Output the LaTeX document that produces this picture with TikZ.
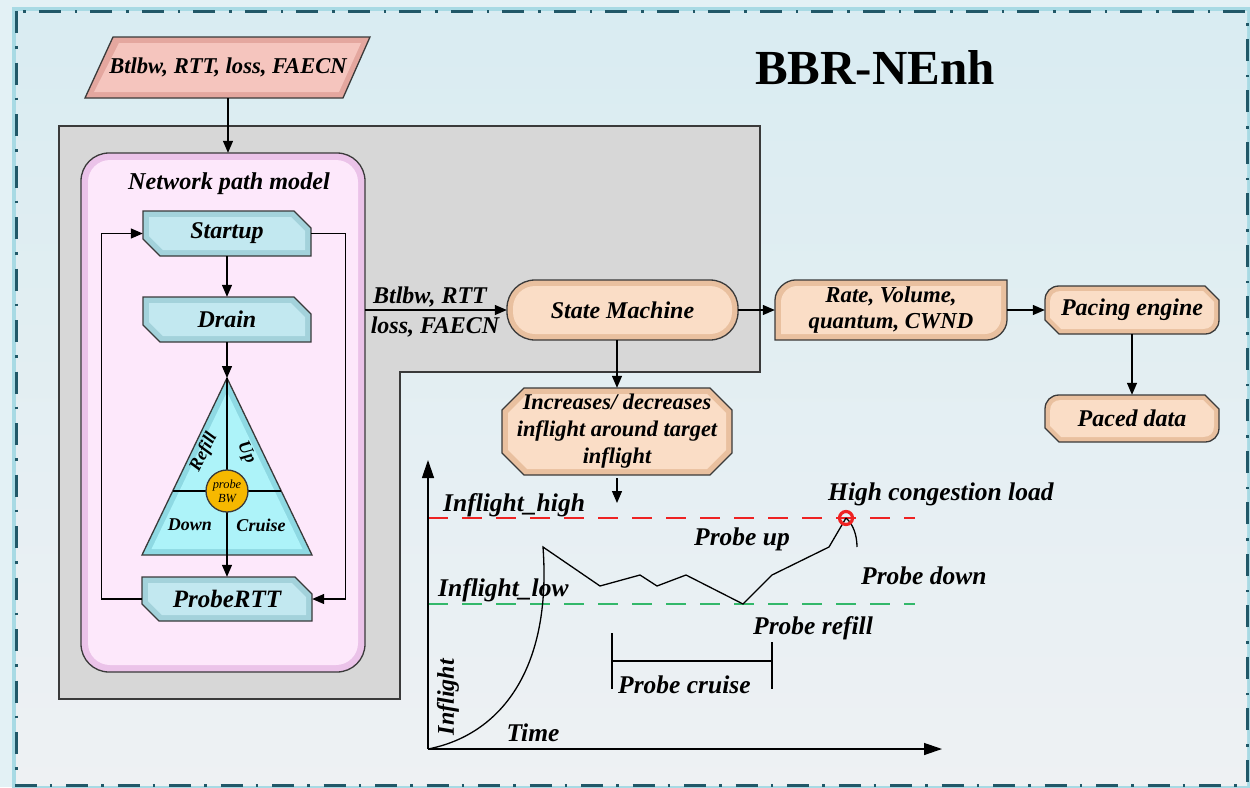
\documentclass[tikz,border=0pt]{standalone}
\usepackage{fontspec}
\setmainfont{Liberation Serif}
\usetikzlibrary{arrows.meta,calc}
\definecolor{frameC}{HTML}{215868}
\definecolor{glowC}{HTML}{A8DAE4}
\definecolor{outerC}{HTML}{E3F1F5}
\definecolor{bgTop}{HTML}{D9ECF2}
\definecolor{bgMid}{HTML}{E0EEF8}
\definecolor{bgBot}{HTML}{EEF1F3}
\definecolor{grayC}{HTML}{D7D7D7}
\definecolor{pinkRim}{HTML}{EBC3E9}
\definecolor{pinkFace}{HTML}{FDE8FB}
\definecolor{cyRim}{HTML}{A3D2DB}
\definecolor{cyFace}{HTML}{C2E8F0}
\definecolor{triRim}{HTML}{8ED9E3}
\definecolor{triFace}{HTML}{ADF3F9}
\definecolor{peRim}{HTML}{E9C09F}
\definecolor{peFace}{HTML}{FADDC6}
\definecolor{inRim}{HTML}{E4A79F}
\definecolor{inFace}{HTML}{F5C5BE}
\definecolor{orangeC}{HTML}{F6B800}
\definecolor{redC}{HTML}{EE2222}
\definecolor{greenC}{HTML}{33B86A}
\definecolor{edgeC}{HTML}{3A3A3A}

\newcommand\fsz[2]{\fontsize{#1}{#2}\selectfont}
% box with top-right and bottom-left corners cut
\newcommand\cutTRBL[5]{%
  \draw[outl,fill=cyRim] (#1,#2) -- ({#3-#5},#2) -- (#3,{#2+#5}) -- (#3,#4) -- ({#1+#5},#4) -- (#1,{#4-#5}) -- cycle;
  \fill[cyFace] ({#1+6},{#2+6}) -- ({#3-#5-3},{#2+6}) -- ({#3-6},{#2+#5+3}) -- ({#3-6},{#4-6}) -- ({#1+#5+3},{#4-6}) -- ({#1+6},{#4-#5-3}) -- cycle;
}
% octagon
\newcommand\octo[5]{%
  \draw[outl,fill=peRim] ({#1+#5},#2) -- ({#3-#5},#2) -- (#3,{#2+#5}) -- (#3,{#4-#5}) -- ({#3-#5},#4) -- ({#1+#5},#4) -- (#1,{#4-#5}) -- (#1,{#2+#5}) -- cycle;
  \fill[peFace] ({#1+#5+3},{#2+6}) -- ({#3-#5-3},{#2+6}) -- ({#3-6},{#2+#5+3}) -- ({#3-6},{#4-#5-3}) -- ({#3-#5-3},{#4-6}) -- ({#1+#5+3},{#4-6}) -- ({#1+6},{#4-#5-3}) -- ({#1+6},{#2+#5+3}) -- cycle;
}
% rounded TL/BR, cut TR/BL
\newcommand\paceshape[4]{%
  \draw[outl,fill=peRim] (#1,{#2+14}) .. controls (#1,{#2+6}) and ({#1+6},#2) .. ({#1+14},#2) -- ({#3-14},#2) -- (#3,{#2+14}) -- (#3,{#4-14}) .. controls (#3,{#4-6}) and ({#3-6},#4) .. ({#3-14},#4) -- ({#1+14},#4) -- (#1,{#4-14}) -- cycle;
  \fill[peFace] ({#1+5},{#2+16}) .. controls ({#1+5},{#2+9}) and ({#1+9},{#2+5}) .. ({#1+16},{#2+5}) -- ({#3-16},{#2+5}) -- ({#3-5},{#2+16}) -- ({#3-5},{#4-16}) .. controls ({#3-5},{#4-9}) and ({#3-9},{#4-5}) .. ({#3-16},{#4-5}) -- ({#1+16},{#4-5}) -- ({#1+5},{#4-16}) -- cycle;
}

\begin{document}
\begin{tikzpicture}[x=1pt,y=-1pt,
  outl/.style={draw=edgeC, line width=1.3pt},
  conn/.style={draw=black, line width=1.3pt},
  arr/.style={conn, -{Triangle[length=12pt,width=10pt]}},
  axarr/.style={conn, -{Triangle[length=18pt,width=12pt]}},
  txt/.style={inner sep=0pt, font=\bfseries\itshape\fsz{24}{28}, align=center},
  gtxt/.style={inner sep=0pt, font=\bfseries\itshape\fsz{25.5}{30}},
  tri/.style={inner sep=0pt, font=\bfseries\itshape\fsz{18}{20}},
]
\useasboundingbox (0,0) rectangle (1250,787);
% ---------- background and frame ----------
\fill[outerC] (0,0) rectangle (1250,787);
\draw[glowC, line width=9pt] (16,11) rectangle (1247,785);
\shade[top color=bgTop, middle color=bgMid, bottom color=bgBot] (16,11) rectangle (1247,785);
\draw[frameC, line width=3pt, dash pattern=on 22pt off 13pt on 2.5pt off 14pt] (16,11) rectangle (1247,785);

% ---------- title ----------
\node[inner sep=0pt, font=\bfseries\fsz{49}{55}] (title) at (875,68) {BBR-NEnh};

% ---------- gray region ----------
\draw[outl, fill=grayC] (59,126) -- (760,126) -- (760,372) -- (400,372) -- (400,699) -- (59,699) -- cycle;

% ---------- input parallelogram ----------
\draw[outl,fill=inRim] (113,37) -- (370,37) -- (343,98) -- (85,98) -- cycle;
\fill[inFace] (119,43) -- (361,43) -- (339,92) -- (94,92) -- cycle;
\node[txt, font=\bfseries\itshape\fsz{22.6}{26}, minimum width=250, minimum height=61] (inp) at (228,67.5) {Btlbw, RTT, loss, FAECN};

% ---------- network path model ----------
\draw[outl, fill=pinkRim, rounded corners=28pt] (81,153) rectangle (365,672);
\fill[pinkFace, rounded corners=22pt] (88,160) rectangle (358,665);
\node[inner sep=0pt, minimum width=284, minimum height=519] (npm) at (223,412.5) {};
\node[txt, font=\bfseries\itshape\fsz{24.2}{28}] (npmtitle) at (229,184) {Network path model};

\cutTRBL{143}{211}{311}{256}{17}
\cutTRBL{143}{297}{311}{342}{17}
\cutTRBL{142}{577}{312}{621}{17}
\node[txt, minimum width=168, minimum height=45] (startup) at (227,233.5) {Startup};
\node[txt, minimum width=168, minimum height=45] (drain) at (227,319.5) {Drain};
\node[txt, font=\bfseries\itshape\fsz{25}{28}, minimum width=170, minimum height=44] (probertt) at (227,599) {ProbeRTT};

% triangle
\draw[outl,fill=triRim] (227,378) -- (312,555) -- (142,555) -- cycle;
\fill[triFace] (227,392) -- (302.5,549) -- (151.5,549) -- cycle;
\coordinate (tritop) at (227,378);
\coordinate (tribot) at (227,555);
\draw[conn] (tritop) -- (tribot);
\draw[conn] (172.7,491) -- (281.3,491);
\draw[outl, fill=orangeC] (227,491) circle[radius=21pt];
\node[inner sep=0pt, align=center, font=\itshape\fsz{12.4}{14}] (probebw) at (227,491) {probe\\BW};
\node[tri, rotate=64] (refill) at (204,452) {Refill};
\node[tri, rotate=-64] (up) at (246,453) {Up};
\node[tri] (down) at (190,525) {Down};
\node[tri] (cruise) at (261,525) {Cruise};

% network path model connectors
\draw[arr] (inp.south) -- (inp.south |- npm.north);
\draw[arr] (startup.south) -- (drain.north);
\draw[arr] (drain.south) -- (tritop);
\draw[arr] (tribot) -- (probertt.north);
\draw[arr] (probertt.west) -- ++(-40,0) |- (startup.west);
\draw[arr] (startup.east) -- ++(34,0) |- (probertt.east);

% ---------- state machine ----------
\draw[outl, fill=peRim, rounded corners=28pt] (507,280) rectangle (738,340);
\fill[peFace, rounded corners=22pt] (513,286) rectangle (732,334);
\node[txt, minimum width=231, minimum height=60] (sm) at (622.5,310) {State Machine};

\node[txt] (lab1) at (430,297) {Btlbw, RTT};
\node[txt] (lab2) at (435,327) {loss, FAECN};
\draw[arr] (npm.east |- sm.west) -- (sm.west);

% increases box
\octo{502}{388}{732}{475}{22}
\node[txt, font=\bfseries\itshape\fsz{22.4}{27}, minimum width=230, minimum height=87] (inc) at (617,431.5) {Increases/ decreases\\inflight around target\\inflight};
\draw[arr] (sm.south -| inc.north) -- (inc.north);
\coordinate (incend) at (617,503);
\draw[arr] (inc.south) ++(0,3) -- (incend);

% ---------- right side ----------
\draw[outl, fill=peRim] (775,340) -- (775,300) .. controls (775,289) and (786,280) .. (795,280) -- (1007,280) -- (1007,320) .. controls (1007,331) and (996,340) .. (987,340) -- cycle;
\fill[peFace] (781,334) -- (781,302) .. controls (781,293) and (789,286) .. (797,286) -- (1001,286) -- (1001,318) .. controls (1001,327) and (993,334) .. (985,334) -- cycle;
\node[txt, font=\bfseries\itshape\fsz{22.8}{26}, minimum width=232, minimum height=60] (rate) at (891,310) {Rate, Volume,\\quantum, CWND};

\paceshape{1045}{286}{1219}{334}
\node[txt, minimum width=174, minimum height=48] (pace) at (1132,310) {Pacing engine};
\paceshape{1045}{395}{1219}{442}
\node[txt, minimum width=174, minimum height=47] (paced) at (1132,418.5) {Paced data};

\draw[arr] (sm.east) -- (rate.west);
\draw[arr] (rate.east) -- (pace.west);
\draw[arr] (pace.south) -- (paced.north);

% ---------- graph ----------
\coordinate (O) at (428,749);
\coordinate (ytop) at (428,460);
\coordinate (xend) at (942,749);
\draw[redC, line width=1.3pt, dash pattern=on 20pt off 14pt] (428,518) -- (915,518);
\draw[greenC, line width=1.3pt, dash pattern=on 20pt off 14pt] (428,604) -- (915,604);
\draw[axarr] (O) -- (ytop);
\draw[axarr] (O) -- (xend);
\draw[conn] (O) .. controls (500,735) and (552,670) .. (543,547)
  -- (600,586) -- (640,575) -- (657,586) -- (686,575) -- (743,604) -- (772,575) -- (829,547) -- (846,518);
\draw[conn] (846,518) .. controls (853,524) and (857,535) .. (857,547);
\draw[redC, line width=3.2pt] (846,518) circle[radius=6.5pt];
\draw[conn] (612,633) -- (612,689);
\draw[conn] (772,642) -- (772,689);
\draw[conn] (612,661) -- (772,661);

\node[gtxt, anchor=west] (ihigh) at (443,505) {Inflight\_high};
\node[gtxt, anchor=west] (ilow) at (438,590) {Inflight\_low};
\node[gtxt, anchor=west] (hcl) at (828,494) {High congestion load};
\node[gtxt] (pup) at (742,539) {Probe up};
\node[gtxt, anchor=west] (pdown) at (861,576) {Probe down};
\node[gtxt, anchor=west] (prefill) at (753,628) {Probe refill};
\node[gtxt, anchor=west] (pcruise) at (618,685) {Probe cruise};
\node[gtxt, font=\bfseries\itshape\fsz{24}{28}, rotate=90] (infl) at (448,697) {Inflight};
\node[gtxt] (time) at (533,733) {Time};
\end{tikzpicture}
\end{document}
